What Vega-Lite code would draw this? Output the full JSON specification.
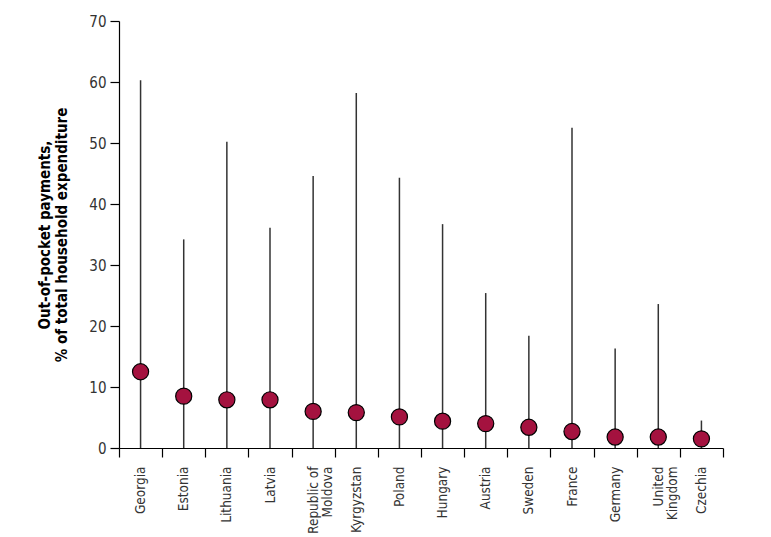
{
  "$schema": "https://vega.github.io/schema/vega-lite/v6.json",
  "width": 604,
  "height": 427,
  "autosize": "none",
  "padding": {"left": 119, "top": 21, "right": 48, "bottom": 89},
  "background": "white",
  "config": {
    "view": {"stroke": null},
    "font": "DejaVu Sans Condensed, Liberation Sans Narrow, sans-serif"
  },
  "data": {
    "values": [
      {"country": "Georgia", "mean": 12.5, "max": 60.3},
      {"country": "Estonia", "mean": 8.5, "max": 34.2},
      {"country": "Lithuania", "mean": 7.9, "max": 50.2},
      {"country": "Latvia", "mean": 7.9, "max": 36.1},
      {"country": "Republic of Moldova", "mean": 6.0, "max": 44.6},
      {"country": "Kyrgyzstan", "mean": 5.8, "max": 58.2},
      {"country": "Poland", "mean": 5.1, "max": 44.3},
      {"country": "Hungary", "mean": 4.4, "max": 36.7},
      {"country": "Austria", "mean": 4.0, "max": 25.4},
      {"country": "Sweden", "mean": 3.4, "max": 18.4},
      {"country": "France", "mean": 2.7, "max": 52.5},
      {"country": "Germany", "mean": 1.8, "max": 16.3},
      {"country": "United Kingdom", "mean": 1.8, "max": 23.6},
      {"country": "Czechia", "mean": 1.5, "max": 4.5}
    ]
  },
  "encoding": {
    "x": {
      "field": "country",
      "type": "nominal",
      "sort": null,
      "scale": {"paddingInner": 0, "paddingOuter": 0},
      "axis": {
        "title": null,
        "tickBand": "extent",
        "tickSize": 9,
        "tickColor": "#000",
        "tickWidth": 1.2,
        "domainColor": "#000",
        "domainWidth": 1.2,
        "labelAngle": 270,
        "labelAlign": "right",
        "labelBaseline": "middle",
        "labelPadding": 9,
        "labelFontSize": 13.5,
        "labelColor": "#333",
        "labelLineHeight": 14.5,
        "labelOverlap": false,
        "labelBound": false,
        "labelExpr": "datum.value == 'Republic of Moldova' ? ['Republic of', 'Moldova'] : datum.value == 'United Kingdom' ? ['United', 'Kingdom'] : datum.value"
      }
    }
  },
  "layer": [
    {
      "mark": {"type": "rule", "color": "#333", "strokeWidth": 1.5},
      "encoding": {
        "y": {
          "field": "max",
          "type": "quantitative",
          "scale": {"domain": [0, 70], "nice": false},
          "axis": {
            "values": [0, 10, 20, 30, 40, 50, 60, 70],
            "grid": false,
            "tickSize": 9,
            "tickColor": "#000",
            "tickWidth": 1.2,
            "domainColor": "#000",
            "domainWidth": 1.2,
            "labelFontSize": 15,
            "labelColor": "#333",
            "labelPadding": 4,
            "title": ["Out-of-pocket payments,", "% of total household expenditure"],
            "titleFontSize": 15,
            "titleFontWeight": "bold",
            "titleColor": "#000",
            "titlePadding": 19,
            "titleLineHeight": 17
          }
        },
        "y2": {"datum": 0}
      }
    },
    {
      "mark": {"type": "point", "filled": true, "fill": "#a4123f", "stroke": "#000", "strokeWidth": 1.2, "opacity": 1, "size": 260},
      "encoding": {
        "y": {"field": "mean", "type": "quantitative"}
      }
    }
  ]
}
